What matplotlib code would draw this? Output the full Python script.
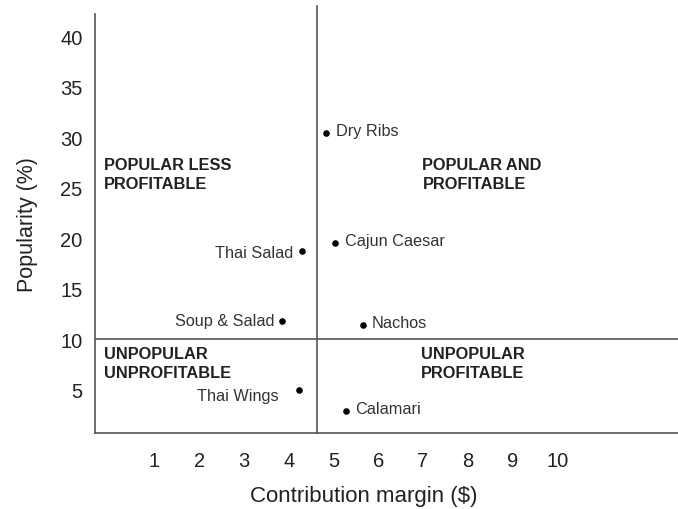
import matplotlib
matplotlib.use("Agg")
from matplotlib import pyplot as plt

plt.rcParams['font.family'] = ['Liberation Sans', 'DejaVu Sans']

# menu items: contribution margin ($) vs popularity (%)
items = ['Dry Ribs', 'Cajun Caesar', 'Thai Salad', 'Soup & Salad', 'Nachos', 'Thai Wings', 'Calamari']
margin = [4.84, 5.04, 4.29, 3.84, 5.67, 4.24, 5.27]
popularity = [30.4, 19.5, 18.7, 11.8, 11.4, 5.0, 2.9]

x_ticks = [1, 2, 3, 4, 5, 6, 7, 8, 9, 10]
y_ticks = [5, 10, 15, 20, 25, 30, 35, 40]

margin_split = 4.64
popularity_split = 10

quadrants = [
    ('POPULAR LESS\nPROFITABLE', -0.13, 28.0),
    ('POPULAR AND\nPROFITABLE', 6.99, 28.0),
    ('UNPOPULAR\nUNPROFITABLE', -0.13, 9.35),
    ('UNPOPULAR\nPROFITABLE', 6.96, 9.35),
]

line_col = '#555555'

fig = plt.figure(figsize=(6.78, 5.10), dpi=100)
ax = fig.add_axes([0.140, 0.149, 0.860, 0.822])

ax.set_xlim(-0.33, 12.7)
ax.set_ylim(0.7, 42.2)

for side in ['top', 'right']:
    ax.spines[side].set_visible(False)
for side in ['left', 'bottom']:
    ax.spines[side].set_color(line_col)
    ax.spines[side].set_linewidth(1.2)

ax.axvline(margin_split, ymin=0, ymax=1.019, color=line_col, lw=1.2, clip_on=False)
ax.axhline(popularity_split, color=line_col, lw=1.2)

ax.set_xticks(x_ticks)
ax.set_yticks(y_ticks)
ax.tick_params(axis='both', length=0, labelsize=14.5, colors='#222222')
ax.tick_params(axis='x', pad=13)
ax.tick_params(axis='y', pad=9)

ax.set_xlabel('Contribution margin ($)', fontsize=16, color='#222222')
ax.xaxis.set_label_coords(0.461, -0.125)
ax.set_ylabel('Popularity (%)', fontsize=15.5, color='#222222', labelpad=16)

ax.scatter(margin, popularity, s=14, color='black', zorder=3)

# label placement (offset in points); left-side items get labels on the left
offsets = {
    'Dry Ribs': (7, 2, 'left'),
    'Cajun Caesar': (7, 2, 'left'),
    'Thai Salad': (-6, -1, 'right'),
    'Soup & Salad': (-5, 0, 'right'),
    'Nachos': (6, 2, 'left'),
    'Thai Wings': (-15, -4, 'right'),
    'Calamari': (7, 2, 'left'),
}
for name, mx, py in zip(items, margin, popularity):
    dx, dy, ha = offsets[name]
    ax.annotate(name, (mx, py), xytext=(dx, dy), textcoords='offset points',
                ha=ha, va='center', fontsize=11.7, color='#333333')

for label, qx, qy in quadrants:
    ax.text(qx, qy, label, ha='left', va='top', fontsize=11.8, fontweight='bold',
            color='#222222', linespacing=1.35)

plt.savefig('out.png', dpi=100)
